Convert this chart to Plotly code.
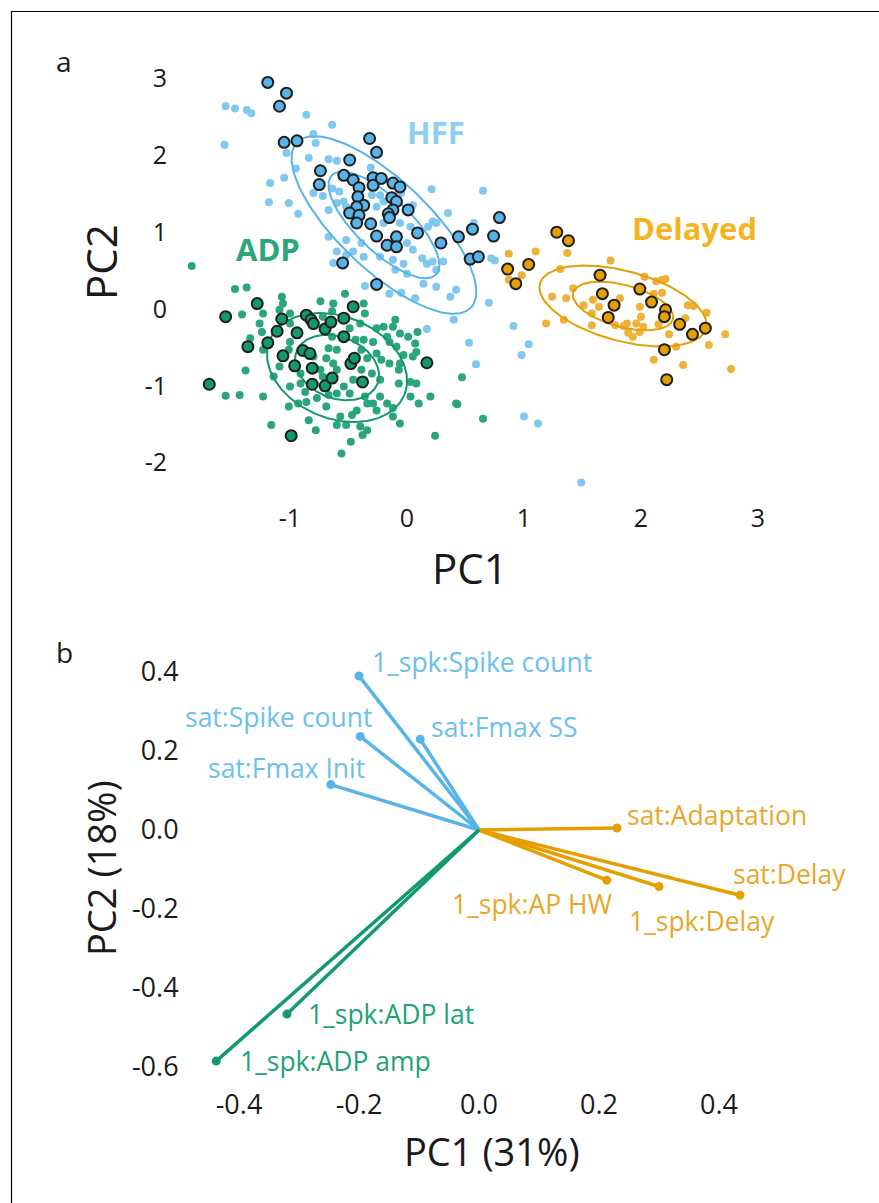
import numpy as np
import plotly.graph_objects as go

W, H = 879, 1203

# ---------------- Panel a data (PC1, PC2) ----------------
hff_out_pc1 = [-1.19,-1.03,-1.09,-1.05,-0.94,-0.32,-0.26,-0.49,-0.74,-0.75,-0.54,-0.46,-0.41,-0.29,-0.22,-0.29,-0.12,-0.06,
               -0.42,-0.37,-0.43,-0.49,-0.41,-0.43,-0.13,-0.09,-0.12,-0.16,-0.15,0.01,-0.31,-0.26,-0.09,0.09,-0.17,-0.09,
               0.29,0.44,-0.55,-0.26,0.56,0.74,0.79,0.54,0.61]
hff_out_pc2 = [2.95,2.81,2.64,2.17,2.19,2.22,2.04,1.94,1.80,1.62,1.74,1.68,1.58,1.71,1.70,1.61,1.64,1.59,
               1.46,1.35,1.33,1.25,1.22,1.12,1.45,1.40,1.29,1.24,1.19,1.29,1.11,0.95,0.94,0.99,0.83,0.81,
               0.86,0.94,0.60,0.32,1.04,0.95,1.19,0.65,0.68]

hff_pc1 = [-1.55,-1.47,-1.37,-1.33,-0.86,-0.64,-1.56,-0.80,-0.78,-1.03,-0.84,-0.67,-0.60,-0.95,-1.17,-1.05,-1.18,-1.01,
           -0.93,-0.80,-0.72,-0.64,-0.58,-0.67,-0.60,-0.54,-0.52,-0.31,-0.30,-0.23,-0.20,-0.26,-0.05,0.05,0.21,0.35,
           0.22,0.18,0.25,0.03,-0.06,-0.20,-0.67,-0.52,-0.39,-0.60,-0.52,-0.46,-0.37,-0.23,-0.12,0.00,0.05,0.13,
           0.17,0.22,0.31,0.25,-0.10,-0.03,0.00,0.14,-0.36,-0.63,-0.15,-0.05,0.25,0.07,0.37,0.42,0.40,0.17,
           0.65,0.57,0.72,0.75,0.70,0.91,0.53,1.04,0.98,0.59,1.00,1.12,1.49]
hff_pc2 = [2.64,2.61,2.59,2.55,2.53,2.40,2.14,2.28,2.16,2.03,1.97,1.95,1.93,1.83,1.64,1.71,1.39,1.38,
           1.24,1.51,1.47,1.57,1.53,1.29,1.38,1.40,1.33,1.84,1.48,1.48,1.40,1.33,1.51,1.35,1.56,1.25,
           1.14,1.07,1.12,1.07,1.12,1.12,0.94,0.90,0.86,0.75,0.70,0.75,0.68,0.68,0.64,0.86,0.77,0.66,
           0.59,0.62,0.62,0.51,0.51,0.59,0.46,0.33,0.30,0.60,0.20,0.21,0.29,0.14,0.16,0.25,-0.14,-0.26,
           1.54,1.12,0.66,0.63,0.08,-0.22,-0.44,-0.46,-0.60,-0.72,-1.40,-1.49,-2.26]

adp_out_pc1 = [-1.28,-1.55,-1.36,-1.69,-1.19,-1.11,-1.07,-0.94,-1.06,-0.96,-0.89,-0.83,-0.86,-0.82,-0.80,-0.70,-0.65,-0.54,
               -0.46,-0.54,-0.81,-0.81,-0.70,-0.64,-0.48,-0.45,-0.38,0.17,-0.99]
adp_out_pc2 = [0.07,-0.10,-0.49,-0.98,-0.44,-0.29,-0.13,-0.31,-0.61,-0.74,-0.54,-0.58,-0.08,-0.14,-0.19,-0.26,-0.17,-0.12,
               0.03,-0.36,-0.77,-0.98,-1.00,-0.90,-0.71,-0.64,-0.95,-0.70,-1.65]

adp_pc1 = [-1.84,-1.47,-1.37,-1.41,-1.23,-1.34,-1.38,-1.55,-1.43,-1.23,-1.26,-1.24,-1.17,-1.23,-1.14,-1.07,-1.06,-1.09,
           -1.00,-1.00,-1.01,-1.09,-1.00,-1.01,-0.93,-0.86,-0.84,-0.78,-1.16,-0.74,-0.64,-0.63,-0.53,-0.37,-0.36,-0.40,
           -0.49,-0.37,-0.26,-0.20,-0.10,-0.12,-0.06,0.01,0.09,0.08,-0.03,-0.17,-0.29,-0.26,-0.34,-0.67,-0.60,-0.69,
           -0.63,-0.74,-0.80,-0.91,-0.91,-0.87,-0.77,-0.67,-0.60,-0.54,-0.49,-0.46,-0.39,-0.30,-0.23,-0.34,-0.23,-0.17,
           -0.12,-0.26,-0.43,-0.57,-0.47,-0.52,-0.40,-0.34,-0.38,-0.60,-0.69,-0.56,-0.48,-0.06,-0.07,0.03,0.08,0.03,
           0.10,0.20,-0.12,-0.06,0.05,0.07,-0.09,-0.15,-0.22,-0.36,-0.29,-0.15,0.24,0.42,-0.07,-0.39,-0.44,-0.60,
           -0.72,-0.64,-0.72,-1.00,0.47,0.43,0.65]
adp_pc2 = [0.56,0.26,0.28,-0.07,-0.06,-0.38,-0.80,-1.13,-1.12,-1.14,-0.19,-0.30,-0.43,-0.53,-0.88,0.16,0.07,-0.01,
           -0.06,-0.43,-0.53,-0.75,-1.01,-1.27,-1.23,-1.21,-1.45,-1.58,-1.51,0.10,-0.03,0.07,0.20,0.07,-0.06,-0.19,
           -0.25,-0.40,-0.25,-0.23,-0.14,-0.23,-0.32,-0.36,-0.30,-0.56,-0.60,-0.36,-0.43,-0.58,-0.64,-0.51,-0.53,-0.64,
           -0.71,-0.79,-0.62,-0.84,-0.97,-1.08,-1.16,-1.12,-1.10,-1.01,-1.10,-0.92,-0.79,-0.84,-0.92,-1.23,-1.14,-1.23,
           -1.29,-1.32,-1.32,-1.40,-1.38,-1.51,-1.53,-1.58,-1.64,-1.51,-1.27,-1.88,-1.73,-1.49,-0.79,-0.95,-0.97,-1.14,
           -1.23,-1.14,-1.40,-0.71,-0.62,-0.45,-0.49,-0.43,-0.66,-1.14,-1.23,-0.71,-1.65,-1.23,-0.97,-0.53,-0.40,-0.79,
           -0.88,-0.36,-0.10,-0.19,-0.89,-1.24,-1.43]

del_out_pc1 = [1.28,1.38,0.86,1.04,0.93,1.65,1.67,1.77,1.72,1.99,2.09,2.21,2.20,2.33,2.44,2.55,2.20,2.22]
del_out_pc2 = [1.00,0.89,0.52,0.58,0.33,0.44,0.20,0.05,-0.11,0.26,0.09,-0.01,-0.10,-0.20,-0.33,-0.25,-0.53,-0.92]

del_pc1 = [0.87,1.10,1.37,0.98,0.87,1.74,1.31,1.24,1.36,1.42,1.19,1.34,1.58,1.59,1.64,1.82,1.78,1.85,
           1.89,1.96,1.93,2.00,1.99,2.03,2.13,2.18,2.21,2.11,2.18,2.15,2.24,2.30,2.40,2.45,2.38,2.56,
           2.58,2.72,2.11,2.36,2.77,1.58,1.99,1.88,1.51,2.02]
del_pc2 = [0.72,0.75,0.73,0.44,0.38,0.63,0.52,0.16,0.14,0.27,-0.19,-0.14,-0.06,0.12,0.03,0.14,-0.21,-0.22,
           -0.31,-0.19,-0.36,-0.10,0.03,0.42,0.36,0.38,0.39,0.20,0.21,-0.20,-0.33,-0.49,0.05,0.04,-0.12,-0.05,
           -0.47,-0.33,-0.66,-0.73,-0.78,-0.21,-0.30,-0.19,0.05,-0.23]

# ellipse centres and conjugate half-axes (data units), outer contour; inner = scaled
ell_names = ["HFF", "ADP", "Delayed"]
ell_cx = [-0.197, -0.598, 1.846]
ell_cy = [1.094, -0.762, 0.039]
ell_ux = [0.744, 0.576, 0.710]
ell_uy = [-1.075, -0.353, -0.290]
ell_vx = [-0.265, -0.163, -0.0775]
ell_vy = [-0.425, -0.616, -0.440]
ell_inner_scale = 0.6

group_label_x = [0.25, -1.19, 2.46]
group_label_y = [2.28, 0.76, 1.03]

# ---------------- Panel b data (loadings) ----------------
load_names = ["1_spk:Spike count", "sat:Spike count", "sat:Fmax SS", "sat:Fmax Init",
              "sat:Adaptation", "sat:Delay", "1_spk:AP HW", "1_spk:Delay",
              "1_spk:ADP lat", "1_spk:ADP amp"]
load_pc1 = [-0.200, -0.198, -0.098, -0.247, 0.230, 0.435, 0.213, 0.300, -0.320, -0.438]
load_pc2 = [0.390, 0.237, 0.230, 0.115, 0.005, -0.165, -0.127, -0.143, -0.466, -0.585]
load_group = ["HFF", "HFF", "HFF", "HFF", "Delayed", "Delayed", "Delayed", "Delayed", "ADP", "ADP"]

xticks_a = [-1, 0, 1, 2, 3]
yticks_a = [-2, -1, 0, 1, 2, 3]
xticks_b = [-0.4, -0.2, 0.0, 0.2, 0.4]
yticks_b = [-0.6, -0.4, -0.2, 0.0, 0.2, 0.4]

# ---------------- styles ----------------
col_main = {"HFF": "#56B4E9", "ADP": "#129A6E", "Delayed": "#E69F00"}
col_light = {"HFF": "#80C8EF", "ADP": "#2BA57C", "Delayed": "#EEB13A"}
col_label = {"HFF": "#8ECEF1", "ADP": "#2BA57C", "Delayed": "#F4B41E"}
col_label_b = {"HFF": "#6DC0EC", "ADP": "#1FA374", "Delayed": "#E9A72A"}
# label offsets (px): anchor, xshift, yshift
lab_style = [("left", 11, 14), ("right", 14, 19), ("left", 9, 12), ("right", 36, 17),
             ("left", 8, 13), ("left", -9, 21), ("right", 8, -24), ("left", -32, -35),
             ("left", 19, 0), ("left", 22, 0)]

FONT = "Open Sans, Noto Sans, DejaVu Sans, sans-serif"
TXT = "#1a1a1a"

def px2paper(x, y):
    return x / W, 1 - y / H

fig = go.Figure()

# panel a: light points
for g, xs, ys in [("HFF", hff_pc1, hff_pc2), ("ADP", adp_pc1, adp_pc2), ("Delayed", del_pc1, del_pc2)]:
    fig.add_trace(go.Scatter(x=xs, y=ys, mode="markers", xaxis="x", yaxis="y",
                             marker=dict(size=8, color=col_light[g], line=dict(width=0)),
                             showlegend=False, hoverinfo="skip"))

# ellipses
t = np.linspace(0, 2 * np.pi, 241)
for i, g in enumerate(ell_names):
    for s in (1.0, ell_inner_scale):
        ex = ell_cx[i] + s * (np.cos(t) * ell_ux[i] + np.sin(t) * ell_vx[i])
        ey = ell_cy[i] + s * (np.cos(t) * ell_uy[i] + np.sin(t) * ell_vy[i])
        fig.add_trace(go.Scatter(x=ex, y=ey, mode="lines", xaxis="x", yaxis="y",
                                 line=dict(color=col_main[g], width=2),
                                 showlegend=False, hoverinfo="skip"))

# outlined points
for g, xs, ys in [("HFF", hff_out_pc1, hff_out_pc2), ("ADP", adp_out_pc1, adp_out_pc2),
                  ("Delayed", del_out_pc1, del_out_pc2)]:
    fig.add_trace(go.Scatter(x=xs, y=ys, mode="markers", xaxis="x", yaxis="y",
                             marker=dict(size=11, color=col_main[g], line=dict(width=2, color="#1e1e1e")),
                             showlegend=False, hoverinfo="skip"))

# panel b: loading vectors
for i, name in enumerate(load_names):
    g = load_group[i]
    fig.add_trace(go.Scatter(x=[0, load_pc1[i]], y=[0, load_pc2[i]], mode="lines",
                             xaxis="x2", yaxis="y2", line=dict(color=col_main[g], width=3.5),
                             showlegend=False, hoverinfo="skip"))
for i, name in enumerate(load_names):
    g = load_group[i]
    fig.add_trace(go.Scatter(x=[load_pc1[i]], y=[load_pc2[i]], mode="markers",
                             xaxis="x2", yaxis="y2", marker=dict(size=9, color=col_main[g]),
                             showlegend=False, hoverinfo="skip"))

annotations = []
for i, g in enumerate(ell_names):
    annotations.append(dict(x=group_label_x[i], y=group_label_y[i], xref="x", yref="y",
                            text="<b>%s</b>" % g, showarrow=False, yshift=2,
                            font=dict(family=FONT, size=31, color=col_label[g])))
for i, name in enumerate(load_names):
    anc, xs, ys = lab_style[i]
    annotations.append(dict(x=load_pc1[i], y=load_pc2[i], xref="x2", yref="y2", text=name,
                            showarrow=False, xanchor=anc, yanchor="middle", xshift=xs, yshift=ys,
                            font=dict(family=FONT, size=26.5, color=col_label_b[load_group[i]])))

def add_text(txt, x, y, size, angle=0):
    px, py = px2paper(x, y)
    annotations.append(dict(x=px, y=py, xref="paper", yref="paper", text=txt, showarrow=False,
                            xanchor="center", yanchor="middle", textangle=angle,
                            font=dict(family=FONT, size=size, color=TXT)))

add_text("a", 64, 61, 28)
add_text("b", 64, 652, 28)
add_text("PC2", 100, 262, 42, -90)
add_text("PC1", 470, 567, 42)
add_text("PC2 (18%)", 101, 868, 38, -90)
add_text("PC1 (31%)", 492, 1151, 38)

def fmt_a(v):
    return str(v).replace("\u2212", "-")

def fmt_b(v):
    return ("%.1f" % v).replace("\u2212", "-")

axis_common = dict(showgrid=False, zeroline=False, showline=False, ticks="outside",
                   tickcolor="rgba(0,0,0,0)", automargin=False)

xa0, xa1 = 180, 760
ya0, ya1 = 70, 495
xb0, xb1 = 200, 780
yb0, yb1 = 650, 1080

fa = dict(family=FONT, size=25, color=TXT)
fb = dict(family=FONT, size=27, color=TXT)

fig.update_layout(
    width=W, height=H, margin=dict(l=0, r=0, t=0, b=0, pad=0, autoexpand=False),
    paper_bgcolor="white", plot_bgcolor="white", showlegend=False,
    xaxis=dict(domain=[xa0 / W, xa1 / W], range=[(xa0 - 407) / 117, (xa1 - 407) / 117], anchor="y",
               tickvals=xticks_a, ticktext=[fmt_a(v) for v in xticks_a], ticklen=1, tickfont=fa, **axis_common),
    yaxis=dict(domain=[1 - ya1 / H, 1 - ya0 / H], range=[(309 - ya1) / 76.8, (309 - ya0) / 76.8], anchor="x",
               tickvals=yticks_a, ticktext=[fmt_a(v) for v in yticks_a], ticklen=7, tickfont=fa, **axis_common),
    xaxis2=dict(domain=[xb0 / W, xb1 / W], range=[(xb0 - 479) / 600, (xb1 - 479) / 600], anchor="y2",
                tickvals=xticks_b, ticktext=[fmt_b(v) for v in xticks_b], ticklen=1, tickfont=fb, **axis_common),
    yaxis2=dict(domain=[1 - yb1 / H, 1 - yb0 / H], range=[(830 - yb1) / 395, (830 - yb0) / 395], anchor="x2",
                tickvals=yticks_b, ticktext=[fmt_b(v) for v in yticks_b], ticklen=15, tickfont=fb, **axis_common),
    annotations=annotations,
    shapes=[dict(type="rect", xref="paper", yref="paper", x0=11.5 / W, x1=1.05, y0=-0.05, y1=1 - 11.5 / H,
                 line=dict(color="black", width=1.2), fillcolor="rgba(0,0,0,0)", layer="below")],
)

fig.write_html(
    "out.html",
    config={"displayModeBar": False},
    post_script="document.body.style.margin='0';",
)
